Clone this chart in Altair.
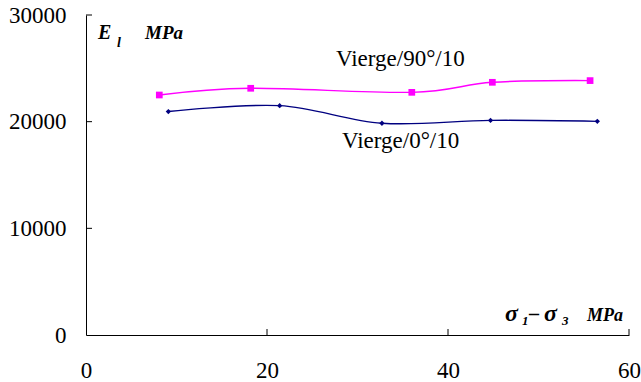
import altair as alt
import pandas as pd

# Deviatoric stress (MPa) and longitudinal modulus E_l (MPa)
x_90 = [8.1, 18.2, 36.0, 44.9, 55.7]
e_90 = [22500, 23130, 22750, 23690, 23850]
x_0 = [9.1, 21.4, 32.7, 44.7, 56.5]
e_0 = [20950, 21500, 19850, 20120, 20030]

x_ticks = [0, 20, 40, 60]
y_ticks = [0, 10000, 20000, 30000]

W, H = 543, 320
SERIF = "Times New Roman"

df = pd.concat([
    pd.DataFrame({"s": x_90, "E": e_90, "serie": "Vierge/90°/10"}),
    pd.DataFrame({"s": x_0, "E": e_0, "serie": "Vierge/0°/10"}),
])

xs = alt.Scale(domain=[0, 60], nice=False, zero=False)
ys = alt.Scale(domain=[0, 30000], nice=False)

x_axis = alt.Axis(values=x_ticks, ticks=False, grid=False, domainColor="black",
                  labelFont=SERIF, labelFontSize=23, labelColor="black",
                  labelPadding=24, title=None, labelFlush=False)
y_axis = alt.Axis(values=y_ticks, ticks=False, grid=False, domainColor="black",
                  labelFont=SERIF, labelFontSize=23, labelColor="black",
                  labelPadding=20, title=None, format="d")

colors = alt.Scale(domain=["Vierge/90°/10", "Vierge/0°/10"], range=["#FF00FF", "#000080"])
shapes = alt.Scale(domain=["Vierge/90°/10", "Vierge/0°/10"], range=["square", "diamond"])

base = alt.Chart(df)

lines = base.mark_line(interpolate="cardinal", strokeWidth=1.4).encode(
    x=alt.X("s:Q", scale=xs, axis=x_axis),
    y=alt.Y("E:Q", scale=ys, axis=y_axis),
    color=alt.Color("serie:N", scale=colors, legend=None),
    detail="serie:N",
)

points = base.mark_point(filled=True, opacity=1).encode(
    x=alt.X("s:Q", scale=xs),
    y=alt.Y("E:Q", scale=ys),
    color=alt.Color("serie:N", scale=colors, legend=None),
    shape=alt.Shape("serie:N", scale=shapes, legend=None),
    size=alt.condition(alt.datum.serie == "Vierge/90°/10", alt.value(45), alt.value(28)),
)

# inward tick marks on both axes
xt = alt.Chart(pd.DataFrame({"t": x_ticks[1:]})).mark_rule(
    color="black", strokeWidth=1).encode(
    x=alt.X("t:Q", scale=xs), y=alt.value(H - 6), y2=alt.value(H))
yt = alt.Chart(pd.DataFrame({"t": y_ticks[1:]})).mark_rule(
    color="black", strokeWidth=1).encode(
    y=alt.Y("t:Q", scale=ys), x=alt.value(0), x2=alt.value(6))

# text annotations
ann = pd.DataFrame([
    {"txt": "Vierge/90°/10", "px": 250, "py": 51, "sz": 23, "st": "normal", "wt": "normal"},
    {"txt": "Vierge/0°/10", "px": 256, "py": 133, "sz": 23, "st": "normal", "wt": "normal"},
    {"txt": "E", "px": 12, "py": 24, "sz": 20, "st": "italic", "wt": "bold"},
    {"txt": "l", "px": 31, "py": 32, "sz": 14, "st": "italic", "wt": "bold"},
    {"txt": "MPa", "px": 59, "py": 24, "sz": 19, "st": "italic", "wt": "bold"},
    {"txt": "σ", "px": 419, "py": 306, "sz": 24, "st": "italic", "wt": "bold"},
    {"txt": "1", "px": 436, "py": 310, "sz": 13, "st": "italic", "wt": "bold"},
    {"txt": "–", "px": 443, "py": 305, "sz": 20, "st": "normal", "wt": "bold"},
    {"txt": "σ", "px": 458, "py": 306, "sz": 24, "st": "italic", "wt": "bold"},
    {"txt": "3", "px": 476, "py": 310, "sz": 13, "st": "italic", "wt": "bold"},
    {"txt": "MPa", "px": 501, "py": 306, "sz": 18, "st": "italic", "wt": "bold"},
])

texts = []
for _, r in ann.iterrows():
    texts.append(
        alt.Chart(pd.DataFrame({"txt": [r.txt]})).mark_text(
            align="left", baseline="alphabetic", font=SERIF, fontSize=int(r.sz),
            fontStyle=r.st, fontWeight=r.wt, color="black",
        ).encode(x=alt.value(float(r.px)), y=alt.value(float(r.py)), text="txt:N")
    )

chart = alt.layer(lines, points, xt, yt, *texts).properties(
    width=W, height=H,
    autosize=alt.AutoSizeParams(type="none"),
    padding={"left": 86, "top": 15, "right": 12, "bottom": 47},
).configure_view(stroke=None).configure_axis(domainWidth=1)

chart.save("out.html", embed_options={"renderer": "svg", "actions": False})
